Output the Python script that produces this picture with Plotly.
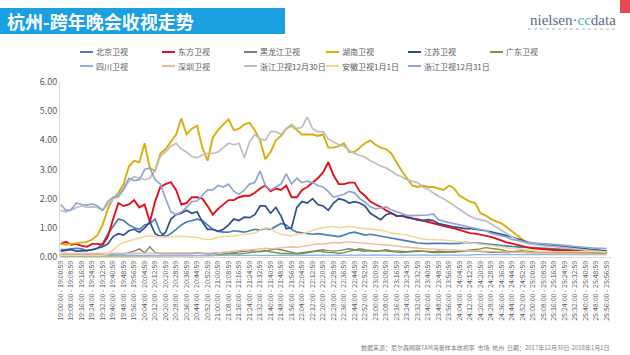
import plotly.graph_objects as go

# ---------------- data ----------------
minutes = list(range(0, 420, 4))
categories = [f"{19 + m // 60}:{m % 60:02d}:00 - {19 + m // 60}:{m % 60:02d}:59" for m in minutes]
tick_labels = categories[::2]

beijing = [0.25,0.25,0.28,0.3,0.28,0.22,0.25,0.3,0.45,0.8,
           1.05,1.3,1.25,1.1,1.0,0.95,1.1,1.15,1.3,0.85,
           0.7,0.8,0.95,1.1,1.2,1.25,1.3,1.25,1.1,0.95,
           0.88,0.85,0.85,0.9,0.88,0.85,0.9,0.95,0.92,0.98,
           0.95,1.05,1.15,1.1,0.95,0.85,0.82,0.8,0.78,0.8,
           0.78,0.75,0.72,0.7,0.75,0.82,0.85,0.8,0.75,0.78,
           0.75,0.72,0.68,0.65,0.63,0.6,0.56,0.52,0.48,0.46,
           0.46,0.47,0.48,0.47,0.46,0.46,0.47,0.5,0.5,0.48,
           0.47,0.45,0.42,0.4,0.38,0.37,0.36,0.35,0.34,0.32,
           0.3,0.3,0.29,0.28,0.27,0.26,0.25,0.25,0.24,0.23,
           0.22,0.22,0.21,0.2,0.2]
dongfang = [0.45,0.52,0.42,0.45,0.38,0.35,0.45,0.45,0.42,0.7,
            1.3,1.85,1.75,1.8,1.95,1.7,1.8,1.2,1.9,2.4,
            2.5,2.57,2.3,1.8,1.85,2.05,2.05,2.0,1.75,1.45,
            1.65,1.8,1.95,1.95,2.05,2.1,2.1,2.2,2.35,2.45,
            2.25,2.35,2.3,2.45,2.05,2.05,2.3,2.4,2.55,2.7,
            2.9,3.25,2.8,2.5,2.5,2.55,2.55,2.25,2.1,1.9,
            1.8,1.72,1.6,1.5,1.42,1.4,1.38,1.32,1.3,1.25,
            1.2,1.15,1.1,1.05,1.02,0.98,0.92,0.87,0.82,0.8,
            0.77,0.74,0.69,0.63,0.56,0.5,0.46,0.41,0.36,0.33,
            0.3,0.28,0.26,0.25,0.24,0.23,0.22,0.21,0.19,0.17,
            0.16,0.15,0.15,0.14,0.14]
heilongjiang = [0.1,0.12,0.1,0.1,0.08,0.1,0.1,0.12,0.1,0.08,
                0.1,0.12,0.1,0.15,0.2,0.28,0.15,0.35,0.15,0.12,
                0.12,0.1,0.12,0.1,0.12,0.12,0.15,0.12,0.1,0.12,
                0.15,0.15,0.12,0.15,0.18,0.2,0.22,0.2,0.18,0.2,
                0.25,0.28,0.25,0.2,0.15,0.12,0.15,0.18,0.2,0.22,
                0.25,0.22,0.2,0.22,0.25,0.28,0.25,0.22,0.2,0.22,
                0.2,0.22,0.25,0.22,0.2,0.2,0.18,0.2,0.22,0.2,
                0.18,0.18,0.2,0.2,0.18,0.17,0.18,0.2,0.22,0.2,
                0.18,0.17,0.16,0.16,0.15,0.15,0.16,0.17,0.16,0.15,
                0.15,0.14,0.14,0.15,0.15,0.14,0.14,0.13,0.13,0.14,
                0.13,0.13,0.12,0.12,0.12]
hunan = [0.45,0.42,0.45,0.48,0.5,0.52,0.6,0.75,1.1,1.65,
         2.0,2.2,2.5,3.1,3.3,3.25,3.9,3.05,2.95,3.55,
         3.7,3.95,4.2,4.75,4.2,4.4,4.5,3.75,3.3,4.1,
         4.35,4.55,4.72,4.35,4.4,4.55,4.6,4.35,4.0,3.35,
         3.6,4.0,4.15,4.4,4.5,4.35,4.2,4.2,4.2,4.15,
         4.2,3.75,3.75,3.8,3.9,3.6,3.6,3.75,3.9,4.0,
         3.85,3.75,3.7,3.55,3.25,2.95,2.7,2.45,2.4,2.45,
         2.4,2.4,2.35,2.3,2.45,2.35,2.1,2.0,1.9,1.85,
         1.5,1.42,1.3,1.22,1.15,1.02,0.88,0.72,0.6,0.5,
         0.46,0.44,0.42,0.4,0.38,0.36,0.34,0.32,0.3,0.28,
         0.26,0.24,0.22,0.2,0.18]
jiangsu = [0.2,0.22,0.25,0.2,0.2,0.22,0.25,0.3,0.35,0.45,
           0.7,0.8,0.75,0.9,0.95,0.85,1.0,1.2,0.8,0.7,
           0.85,1.3,1.45,1.5,1.6,1.5,1.55,1.2,0.95,0.95,
           0.88,0.95,1.1,1.3,1.25,1.37,1.35,1.45,1.75,1.75,
           1.5,1.7,1.4,0.97,1.0,1.7,1.9,1.85,2.0,1.8,
           1.75,1.6,1.85,2.0,1.95,1.85,1.9,1.85,1.75,1.5,
           1.4,1.28,1.45,1.5,1.4,1.42,1.35,1.33,1.26,1.25,
           1.28,1.25,1.15,1.12,1.07,1.03,1.0,0.97,0.98,0.96,
           0.93,0.9,0.86,0.82,0.78,0.74,0.69,0.62,0.55,0.5,
           0.47,0.44,0.41,0.4,0.39,0.38,0.36,0.34,0.32,0.3,
           0.29,0.27,0.25,0.23,0.2]
guangdong = [0.03,0.03,0.03,0.03,0.03,0.03,0.03,0.03,0.03,0.03,
             0.03,0.03,0.03,0.03,0.03,0.03,0.03,0.04,0.04,0.04,
             0.04,0.04,0.04,0.04,0.04,0.04,0.04,0.04,0.04,0.05,
             0.08,0.1,0.1,0.12,0.1,0.12,0.15,0.18,0.2,0.22,
             0.18,0.15,0.12,0.12,0.1,0.1,0.12,0.15,0.18,0.2,
             0.18,0.15,0.15,0.12,0.15,0.2,0.25,0.28,0.25,0.22,
             0.2,0.22,0.2,0.18,0.15,0.15,0.17,0.18,0.2,0.2,
             0.18,0.15,0.15,0.15,0.17,0.18,0.2,0.2,0.22,0.25,
             0.28,0.32,0.3,0.28,0.25,0.2,0.18,0.2,0.22,0.2,
             0.18,0.18,0.17,0.17,0.16,0.16,0.16,0.15,0.15,0.15,
             0.15,0.15,0.14,0.14,0.14]
sichuan = [0.08,0.08,0.08,0.07,0.07,0.07,0.07,0.07,0.06,0.06,
           0.06,0.06,0.06,0.06,0.06,0.05,0.05,0.05,0.05,0.05,
           0.05,0.05,0.05,0.05,0.05,0.05,0.05,0.05,0.05,0.05,
           0.05,0.05,0.05,0.05,0.05,0.05,0.05,0.05,0.05,0.05,
           0.05,0.05,0.05,0.05,0.05,0.05,0.05,0.05,0.05,0.05,
           0.05,0.05,0.05,0.05,0.05,0.05,0.05,0.05,0.05,0.05,
           0.05,0.05,0.05,0.06,0.06,0.06,0.06,0.06,0.06,0.06,
           0.06,0.06,0.06,0.07,0.07,0.07,0.07,0.07,0.07,0.08,
           0.08,0.08,0.08,0.08,0.08,0.08,0.08,0.08,0.08,0.08,
           0.08,0.08,0.08,0.08,0.08,0.08,0.08,0.08,0.08,0.08,
           0.08,0.08,0.08,0.08,0.08]
shenzhen = [0.12,0.12,0.12,0.12,0.12,0.12,0.12,0.12,0.12,0.12,
            0.12,0.12,0.13,0.13,0.12,0.12,0.12,0.12,0.12,0.12,
            0.12,0.12,0.12,0.12,0.12,0.12,0.12,0.12,0.13,0.14,
            0.15,0.16,0.18,0.2,0.22,0.22,0.24,0.26,0.28,0.3,
            0.28,0.3,0.32,0.33,0.35,0.33,0.36,0.4,0.42,0.45,
            0.44,0.46,0.5,0.48,0.5,0.52,0.5,0.48,0.46,0.45,
            0.44,0.43,0.42,0.4,0.38,0.35,0.33,0.32,0.3,0.29,
            0.28,0.27,0.27,0.26,0.26,0.25,0.24,0.23,0.22,0.21,
            0.2,0.2,0.19,0.19,0.18,0.17,0.16,0.16,0.15,0.15,
            0.14,0.14,0.13,0.13,0.12,0.12,0.12,0.11,0.11,0.11,
            0.1,0.1,0.1,0.1,0.1]
zhejiang_1230 = [1.6,1.55,1.6,1.7,1.75,1.7,1.72,1.7,1.6,1.8,
                 2.0,2.05,2.3,2.6,2.75,2.7,2.65,2.7,3.0,3.45,
                 3.6,3.8,3.9,3.7,3.6,3.45,3.4,3.5,3.55,3.55,
                 3.6,3.75,3.9,3.85,3.9,3.4,3.95,4.2,4.05,4.0,
                 4.3,4.3,4.2,4.4,4.55,4.4,4.45,4.8,4.4,4.3,
                 4.3,4.05,3.95,3.85,3.8,3.65,3.55,3.48,3.42,3.3,
                 3.2,3.12,3.05,2.95,2.82,2.75,2.65,2.6,2.55,2.4,
                 2.32,2.2,2.08,2.0,1.88,1.78,1.65,1.54,1.4,1.32,
                 1.28,1.24,1.14,1.02,0.9,0.78,0.69,0.58,0.52,0.46,
                 0.43,0.4,0.38,0.37,0.35,0.34,0.32,0.3,0.28,0.26,
                 0.24,0.22,0.2,0.19,0.17]
anhui_0101 = [0.05,0.05,0.05,0.05,0.05,0.05,0.05,0.05,0.06,0.1,
              0.25,0.4,0.5,0.55,0.62,0.65,0.7,0.72,0.7,0.68,
              0.68,0.7,0.7,0.72,0.7,0.68,0.68,0.62,0.6,0.62,
              0.68,0.7,0.7,0.72,0.75,0.78,0.8,0.82,0.92,1.0,
              0.98,0.85,0.78,0.75,0.72,0.78,0.8,0.85,0.92,0.97,
              1.0,1.02,1.05,1.0,1.03,1.05,1.02,1.0,0.98,0.95,
              0.95,0.92,0.88,0.82,0.8,0.78,0.75,0.7,0.65,0.62,
              0.6,0.6,0.58,0.58,0.57,0.55,0.52,0.5,0.48,0.46,
              0.44,0.42,0.4,0.38,0.35,0.32,0.3,0.28,0.25,0.22,
              0.2,0.2,0.19,0.19,0.18,0.18,0.18,0.18,0.18,0.18,
              0.18,0.18,0.18,0.18,0.18]
zhejiang_1231 = [1.8,1.6,1.62,1.85,1.8,1.78,1.82,1.75,1.6,1.9,
                 2.05,2.1,2.35,2.7,2.62,2.65,3.0,3.05,2.65,2.5,
                 2.0,1.55,1.45,1.55,1.7,1.9,1.92,2.1,2.3,2.3,
                 2.45,2.4,2.5,2.25,2.15,2.3,2.5,2.55,2.95,2.45,
                 2.3,2.4,2.5,2.85,2.5,2.7,2.55,2.6,2.55,2.45,
                 2.4,2.25,2.05,2.1,2.15,2.25,2.2,2.0,1.88,1.72,
                 1.65,1.68,1.72,1.62,1.55,1.5,1.43,1.42,1.43,1.42,
                 1.44,1.48,1.28,1.22,1.18,1.14,1.1,1.04,1.0,0.98,
                 0.93,0.9,0.82,0.77,0.72,0.68,0.6,0.56,0.52,0.5,
                 0.48,0.46,0.45,0.44,0.43,0.42,0.4,0.38,0.36,0.34,
                 0.33,0.32,0.3,0.3,0.29]

series_names = ["北京卫视", "东方卫视", "黑龙江卫视", "湖南卫视", "江苏卫视", "广东卫视",
                "四川卫视", "深圳卫视", "浙江卫视12月30日", "安徽卫视1月1日", "浙江卫视12月31日"]
series_values = [beijing, dongfang, heilongjiang, hunan, jiangsu, guangdong,
                 sichuan, shenzhen, zhejiang_1230, anhui_0101, zhejiang_1231]
series_colors = ["#4A7EBB", "#E3101A", "#7F7F7F", "#D9AE0B", "#2C4F8F", "#6E9A3A",
                 "#8DB4E2", "#F2B49A", "#BFBFBF", "#F7D592", "#8FA6D2"]
series_widths = [1.7, 1.9, 1.4, 1.9, 1.7, 1.4, 1.4, 1.4, 1.7, 1.5, 1.7]

# ---------------- layout helpers ----------------
W, H = 630, 355
ML, MR, MT, MB = 60, 19, 82, 98
PW, PH = W - ML - MR, H - MT - MB


def px_x(p):
    return (p - ML) / PW


def px_y(p):
    return (H - MB - p) / PH


fig = go.Figure()
for name, vals, col, lw in zip(series_names, series_values, series_colors, series_widths):
    fig.add_trace(go.Scatter(x=categories, y=vals, name=name, mode="lines",
                             line=dict(color=col, width=lw), showlegend=False))

FONT = "Noto Sans CJK SC, Noto Sans, sans-serif"

fig.update_layout(
    width=W, height=H,
    margin=dict(l=ML, r=MR, t=MT, b=MB, autoexpand=False),
    paper_bgcolor="white", plot_bgcolor="white",
    font=dict(family=FONT, color="#595959"),
    showlegend=False,
    xaxis=dict(type="category", categoryorder="array", categoryarray=categories,
               tickmode="array", tickvals=tick_labels, ticktext=tick_labels,
               tickangle=-90, tickfont=dict(size=7, color="#595959"),
               showgrid=False, showline=True, linecolor="#D9D9D9", linewidth=1,
               ticks="", range=[-0.125, len(categories) - 0.125], zeroline=False,
               automargin=False),
    yaxis=dict(range=[0, 6], tickmode="array", tickvals=[0, 1, 2, 3, 4, 5, 6],
               tickformat=".2f", tickfont=dict(size=9, color="#595959"),
               showgrid=False, showline=True, linecolor="#D9D9D9", linewidth=1,
               ticks="", zeroline=False, automargin=False),
)

shapes = [
    dict(type="rect", xref="paper", yref="paper", x0=px_x(0), x1=px_x(285),
         y0=px_y(34), y1=px_y(8), fillcolor="#1BA0E2", line=dict(width=0), layer="above"),
    dict(type="rect", xref="paper", yref="paper", x0=px_x(620), x1=px_x(630),
         y0=px_y(13), y1=px_y(0), fillcolor="#E8484F", line=dict(width=0), layer="above"),
    dict(type="line", xref="paper", yref="paper", x0=px_x(528), x1=px_x(617),
         y0=px_y(29), y1=px_y(29), line=dict(color="#A9B3C2", width=1, dash="dot")),
]
annotations = [
    dict(xref="paper", yref="paper", x=px_x(5), y=px_y(21), xanchor="left", yanchor="middle",
         text="<b>杭州-跨年晚会收视走势</b>", showarrow=False,
         font=dict(family=FONT, size=18, color="white")),
    dict(xref="paper", yref="paper", x=px_x(618), y=px_y(20), xanchor="right", yanchor="middle",
         text='<span style="color:#5A6C8A">nielsen·</span><span style="color:#3FB5C8">cc</span>'
              '<span style="color:#5A6C8A">data</span>',
         showarrow=False, font=dict(family="Liberation Serif, DejaVu Serif, serif", size=15)),
    dict(xref="paper", yref="paper", x=px_x(612), y=px_y(347), xanchor="right", yanchor="middle",
         text="数据来源：尼尔森网联TAM海量样本收视率  市场  杭州  日期：2017年12月30日-2018年1月1日",
         showarrow=False, font=dict(family=FONT, size=6, color="#7F7F7F")),
]

# legend (two rows of six columns, short line key + label)
LEG_X0, LEG_PITCH, LEG_Y0, LEG_ROW = 80, 82, 52, 14
for i, (name, col) in enumerate(zip(series_names, series_colors)):
    lx = LEG_X0 + (i % 6) * LEG_PITCH
    ly = LEG_Y0 + (i // 6) * LEG_ROW
    shapes.append(dict(type="line", xref="paper", yref="paper",
                       x0=px_x(lx), x1=px_x(lx + 13), y0=px_y(ly), y1=px_y(ly),
                       line=dict(color=col, width=2)))
    annotations.append(dict(xref="paper", yref="paper", x=px_x(lx + 14), y=px_y(ly),
                            xanchor="left", yanchor="middle", text=name, showarrow=False,
                            font=dict(family=FONT, size=8, color="#595959")))

fig.update_layout(shapes=shapes, annotations=annotations)

fig.write_html("out.html", config={"displayModeBar": False},
               post_script="document.body.style.margin='0';document.body.style.overflow='hidden';")
